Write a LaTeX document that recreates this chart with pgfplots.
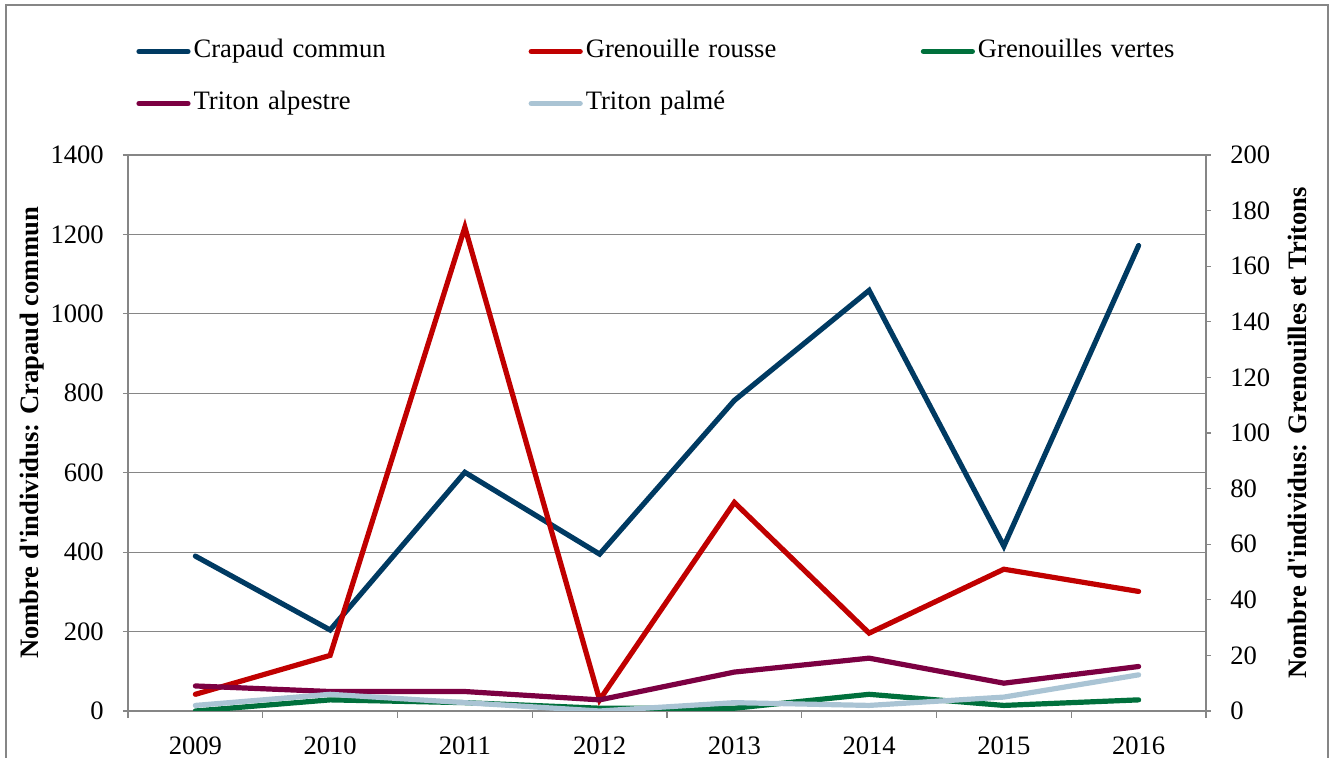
\documentclass[border=0pt]{standalone}
\usepackage{fontspec}
\setmainfont{Liberation Serif}[Ligatures=TeXOff]
\usepackage{pgfplots}
\usepackage{pgfplotstable}
\pgfplotsset{compat=1.18}
\definecolor{cCrapaud}{RGB}{0,58,98}
\definecolor{cRousse}{RGB}{192,0,0}
\definecolor{cVertes}{RGB}{0,112,60}
\definecolor{cAlpestre}{RGB}{124,0,66}
\definecolor{cPalme}{RGB}{170,196,212}
\definecolor{cGrid}{RGB}{134,134,134}

\pgfplotstableread{
x crapaud rousse vertes alpestre palme
0 390 6 0 9 2
1 204 20 4 7 6
2 601 174 3 7 3
3 395 4 1 4 0
4 782 75 1 14 3
5 1059 28 6 19 2
6 415 51 2 10 5
7 1172 43 4 16 13
}\datatable

\pgfplotsset{
  common/.style={
    scale only axis, width=539pt, height=278pt,
    xmin=-0.5, xmax=7.5, ymin=0,
    tick align=outside,
    /pgf/number format/assume math mode=true,
    /pgf/number format/1000 sep={},
    axis line style={cGrid, line width=0.6pt},
    every tick/.style={cGrid, line width=0.6pt},
    major tick length=2.5pt,
    minor tick length=3.5pt,
  },
  serie/.style={line width=2.6pt, line cap=round, #1},
}

\begin{document}
\fontsize{13.3}{16}\selectfont
\begin{tikzpicture}
\begin{axis}[common, name=ax,
  ymax=1400, ytick={0,200,...,1400},
  xtick={0,...,7}, xticklabels={2009,2010,2011,2012,2013,2014,2015,2016},
  minor xtick={-0.5,0.5,...,7.5},
  major x tick style={draw=none},
  axis x line*=bottom, axis y line*=left,
  ymajorgrids, grid style={cGrid, line width=0.6pt},
  xticklabel style={yshift=-6pt},
  yticklabel style={xshift=-5pt},
  ylabel={\bfseries Nombre d'individus: Crapaud commun},
  ylabel style={at={(axis description cs:-0.089,0.5)}, anchor=center, rotate=0},
]
\addplot[serie=cCrapaud] table[x=x, y=crapaud] {\datatable};
\end{axis}
\begin{axis}[common,
  ymax=200, ytick={0,20,...,200},
  axis y line*=right, axis x line=none,
  yticklabel style={xshift=5pt},
  ylabel={\bfseries Nombre d'individus: Grenouilles et Tritons},
  ylabel style={at={(axis description cs:1.0853,0.5)}, anchor=center, rotate=0},
  legend columns=3,
  legend cell align=left,
  legend image code/.code={\draw[#1] (0pt,0pt) -- (24.5pt,0pt);},
  legend style={at={(axis description cs:0,1)}, anchor=west, xshift=4pt, yshift=38.75pt,
    draw=none, fill=none, inner sep=0pt, row sep=13.5pt, column sep=0pt,
    nodes={inner xsep=1.5pt, inner ysep=0pt, text width=166pt, text height=9.5pt, text depth=3pt}},
]
\addlegendimage{serie=cCrapaud}
\addlegendentry{Crapaud commun}
\addplot[serie=cRousse] table[x=x, y=rousse] {\datatable};
\addlegendentry{Grenouille rousse}
\addplot[serie=cVertes] table[x=x, y=vertes] {\datatable};
\addlegendentry{Grenouilles vertes}
\addplot[serie=cAlpestre] table[x=x, y=alpestre] {\datatable};
\addlegendentry{Triton alpestre}
\addplot[serie=cPalme] table[x=x, y=palme] {\datatable};
\addlegendentry{Triton palmé}
\end{axis}
\draw[cGrid, line width=0.8pt] ([shift={(-61pt,-30pt)}]ax.south west) -- ([shift={(-61pt,353pt)}]ax.south west) -- ([shift={(600pt,353pt)}]ax.south west) -- ([shift={(600pt,-30pt)}]ax.south west);
\pgfresetboundingbox
\path[use as bounding box] ([shift={(-64pt,-23.5pt)}]ax.south west) rectangle ([shift={(603.5pt,355.5pt)}]ax.south west);
\end{tikzpicture}
\end{document}
